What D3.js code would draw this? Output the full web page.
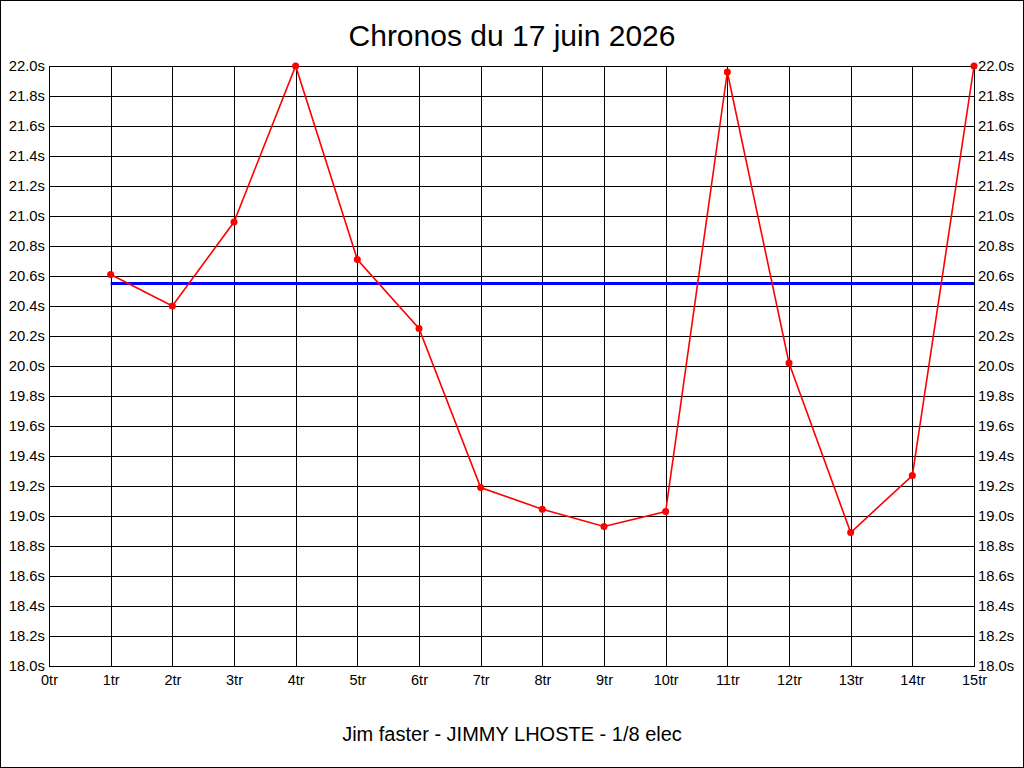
<!DOCTYPE html>
<html>
<head>
<meta charset="utf-8">
<script src="https://cdn.jsdelivr.net/npm/d3@7"></script>
<style>
  body { margin: 0; background: #fff; }
  svg text { font-family: "Liberation Sans", Arial, sans-serif; fill: #000; }
</style>
</head>
<body>
<div class="chart"></div>
<script>
// tours et chronos (secondes)
const tours = [1, 2, 3, 4, 5, 6, 7, 8, 9, 10, 11, 12, 13, 14, 15];
const chronos = [20.61, 20.40, 20.96, 22.00, 20.71, 20.25, 19.19, 19.045, 18.93, 19.03, 21.96, 20.02, 18.89, 19.27, 22.00];
const moyenne = 20.55;
const xTicks = d3.range(0, 16);
const yTicks = d3.range(18.0, 22.01, 0.2);
const titre = "Chronos du 17 juin 2026";
const sousTitre = "Jim faster - JIMMY LHOSTE - 1/8 elec";

const width = 1024;
const height = 768;
const plotLeft = 49, plotRight = 974, plotTop = 66, plotBottom = 666;

const svg = d3.select('.chart')
	.append('svg')
	.attr('width', width)
	.attr('height', height)

svg.append("rect")
	.attr("x", 0.5).attr("y", 0.5)
	.attr("width", width - 1).attr("height", height - 1)
	.attr("fill", "#fff")
	.attr("stroke", "#000")

const x = d3.scaleLinear().domain([0, 15]).range([plotLeft, plotRight]);
const y = d3.scaleLinear().domain([18, 22]).range([plotBottom, plotTop]);

// grille verticale + libelles du bas
const xAxis = svg.append("g")
	.attr("transform", "translate(0," + plotBottom + ")")
	.call(d3.axisBottom(x).tickValues(xTicks).tickSize(-(plotBottom - plotTop)).tickSizeOuter(0)
		.tickFormat(d => d + "tr"))
xAxis.select(".domain").attr("stroke", "#000")
xAxis.selectAll(".tick line").attr("stroke", "#000").attr("shape-rendering", "crispEdges")
xAxis.selectAll(".tick text").attr("font-size", 14.5).attr("dy", "1.05em").attr("y", 4)

// grille horizontale + libelles gauche
const yAxis = svg.append("g")
	.attr("transform", "translate(" + plotLeft + ",0)")
	.call(d3.axisLeft(y).tickValues(yTicks).tickSize(-(plotRight - plotLeft)).tickSizeOuter(0)
		.tickFormat(d => d.toFixed(1) + "s"))
yAxis.select(".domain").remove()
yAxis.selectAll(".tick line").attr("stroke", "#000").attr("shape-rendering", "crispEdges")
yAxis.selectAll(".tick text").attr("font-size", 14.8).attr("x", -4)

// libelles droite
const yAxisR = svg.append("g")
	.attr("transform", "translate(" + plotRight + ",0)")
	.call(d3.axisRight(y).tickValues(yTicks).tickSize(0).tickSizeOuter(0)
		.tickFormat(d => d.toFixed(1) + "s"))
yAxisR.select(".domain").attr("stroke", "#000").attr("shape-rendering", "crispEdges")
yAxisR.selectAll(".tick text").attr("font-size", 14.8).attr("x", 4)

// ligne moyenne
svg.append("line")
	.attr("x1", x(tours[0]))
	.attr("x2", x(tours[tours.length - 1]))
	.attr("y1", y(moyenne))
	.attr("y2", y(moyenne))
	.attr("stroke", "#0000ff")
	.attr("stroke-width", 3)

const data = tours.map((t, i) => ({ tour: t, chrono: chronos[i] }));

svg.append("path")
	.datum(data)
	.attr("fill", "none")
	.attr("stroke", "#ff0000")
	.attr("stroke-width", 1.6)
	.attr("d", d3.line().x(d => x(d.tour)).y(d => y(d.chrono)))

svg.selectAll(".pt")
	.data(data)
	.enter()
	.append("circle")
	.attr("class", "pt")
	.attr("cx", d => x(d.tour))
	.attr("cy", d => y(d.chrono))
	.attr("r", 3.5)
	.attr("fill", "#ff0000")

svg.append("text")
	.attr("x", width / 2)
	.attr("y", 46)
	.attr("text-anchor", "middle")
	.attr("font-size", 30)
	.text(titre)

svg.append("text")
	.attr("x", width / 2)
	.attr("y", 741)
	.attr("text-anchor", "middle")
	.attr("font-size", 20)
	.text(sousTitre)
</script>
</body>
</html>
